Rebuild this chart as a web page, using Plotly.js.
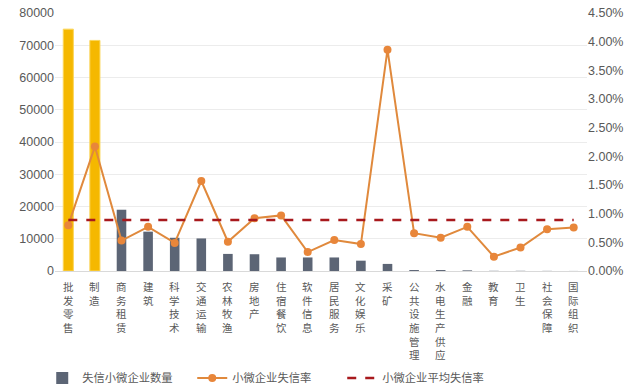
<!DOCTYPE html>
<html>
<head>
<meta charset="utf-8">
<script src="https://cdn.plot.ly/plotly-3.0.1.min.js"></script>
<style>html,body{margin:0;padding:0;background:#fff;}#chart{width:640px;height:392px;}</style>
</head>
<body>
<div id="chart"></div>
<script>
const categories = ['批发零售','制造','商务租赁','建筑','科学技术','交通运输','农林牧渔','房地产','住宿餐饮','软件信息','居民服务','文化娱乐','采矿','公共设施管理','水电生产供应','金融','教育','卫生','社会保障','国际组织'];
const counts = [75000, 71500, 19000, 12200, 10300, 10100, 5300, 5200, 4200, 4200, 4200, 3200, 2200, 300, 300, 200, 60, 60, 40, 20];
const rates = [0.0080, 0.0217, 0.0053, 0.0077, 0.0049, 0.0157, 0.0051, 0.0092, 0.0097, 0.0033, 0.0054, 0.0047, 0.0386, 0.0066, 0.0058, 0.0077, 0.0025, 0.0041, 0.0073, 0.0076];
const avgRate = 0.0089;
const seriesNames = ['失信小微企业数量', '小微企业失信率', '小微企业平均失信率'];
const highlighted = ['批发零售', '制造'];
const leftTicks = [0, 10000, 20000, 30000, 40000, 50000, 60000, 70000, 80000];

const grayBar = '#5c6575';
const yellowBar = '#f5b800';
const isHi = categories.map(c => highlighted.includes(c));

const traces = [
  {
    type: 'bar', x: categories, y: counts.map((v, i) => isHi[i] ? null : v), name: seriesNames[0],
    marker: {color: grayBar}, width: 0.36, yaxis: 'y'
  },
  {
    type: 'bar', x: categories, y: counts.map((v, i) => isHi[i] ? v : null), name: seriesNames[0],
    marker: {color: yellowBar, line: {color: '#fbd65a', width: 1}}, width: 0.38, yaxis: 'y', showlegend: false
  },
  {
    type: 'scatter', mode: 'lines+markers', x: categories, y: rates, name: seriesNames[1],
    line: {color: '#e0893c', width: 2}, marker: {color: '#e8863a', size: 8}, yaxis: 'y2'
  },
  {
    type: 'scatter', mode: 'lines', x: categories, y: categories.map(() => avgRate), name: seriesNames[2],
    line: {color: '#a8191d', width: 2.5, dash: 'dash'}, yaxis: 'y2'
  }
];

const annotations = categories.map((c) => ({
  x: c, y: 0, xref: 'x', yref: 'paper', text: Array.from(c).join('<br>'), showarrow: false,
  yanchor: 'top', xanchor: 'center', yshift: -7, borderpad: 0,
  font: {family: '"Noto Sans CJK SC", sans-serif', size: 10.5, color: '#595959'}
}));

const layout = {
  width: 640, height: 392,
  margin: {l: 55, r: 53, t: 13, b: 121, autoexpand: false},
  paper_bgcolor: '#ffffff', plot_bgcolor: '#ffffff',
  showlegend: true,
  barmode: 'overlay',
  font: {family: '"Liberation Sans", Arial, sans-serif', color: '#595959', size: 12.5},
  xaxis: {
    type: 'category', showticklabels: false, showgrid: false, zeroline: false,
    showline: false, ticks: '', range: [-0.5, categories.length - 0.5]
  },
  yaxis: {
    range: [0, 80000], tickvals: leftTicks, ticktext: leftTicks.map(String),
    showgrid: true, gridcolor: '#ececec', gridwidth: 1,
    zeroline: true, zerolinecolor: '#d9d9d9', zerolinewidth: 1,
    showline: false, ticks: '', tickfont: {size: 12.5, color: '#595959'}
  },
  yaxis2: {
    overlaying: 'y', side: 'right', range: [0, 0.045], dtick: 0.005, tickformat: '.2%',
    showgrid: false, zeroline: false, showline: false, ticks: '',
    tickfont: {size: 12.5, color: '#595959'}
  },
  legend: {
    orientation: 'h', x: -0.024, xanchor: 'left', y: -0.415, yanchor: 'middle',
    font: {family: '"Noto Sans CJK SC", sans-serif', size: 11.3, color: '#595959'},
    traceorder: 'normal', entrywidth: 105, entrywidthmode: 'pixels'
  },
  annotations: annotations,
  hovermode: false
};

Plotly.newPlot('chart', traces, layout, {displayModeBar: false, staticPlot: true});
</script>
</body>
</html>
